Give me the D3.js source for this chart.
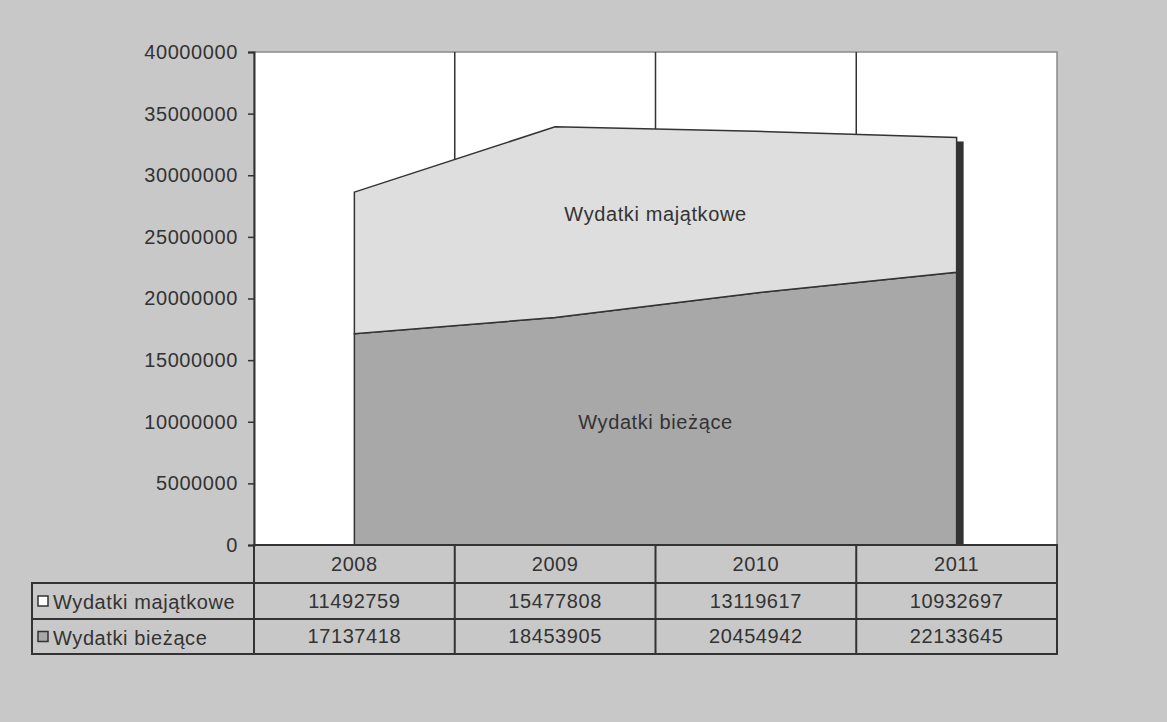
<!DOCTYPE html>
<html>
<head>
<meta charset="utf-8">
<script src="https://cdn.jsdelivr.net/npm/d3@7"></script>
<style>
  body { margin: 0; background: #c8c8c8; }
  text { font-family: "Liberation Sans", Arial, sans-serif; fill: #333; letter-spacing: 0.6px; }
</style>
</head>
<body>
<script>
// values
var years = ["2008", "2009", "2010", "2011"];
var majatkowe = [11492759, 15477808, 13119617, 10932697];
var biezace = [17137418, 18453905, 20454942, 22133645];
var seriesNames = ["Wydatki majątkowe", "Wydatki bieżące"];
var yTicks = [0, 5000000, 10000000, 15000000, 20000000, 25000000, 30000000, 35000000, 40000000];

var W = 1167, H = 722;
var plot = {left: 254, right: 1057, top: 52, bottom: 545};
var rowH = [38, 36, 35];
var tableLeft = 32;

var svg = d3.select("body").append("svg")
    .attr("width", W)
    .attr("height", H);

svg.append("rect").attr("width", W).attr("height", H).attr("fill", "#c8c8c8");

var x = d3.scaleBand().domain(years).range([plot.left, plot.right]);
var y = d3.scaleLinear().domain([0, 40000000]).range([plot.bottom, plot.top]);
var cx = function(d) { return x(d) + x.bandwidth() / 2; };

// plot area
svg.append("rect")
    .attr("x", plot.left).attr("y", plot.top)
    .attr("width", plot.right - plot.left).attr("height", plot.bottom - plot.top)
    .attr("fill", "#fff")
    .attr("stroke", "#8a8a8a")
    .attr("stroke-width", 1.5);

// category dividers
svg.append("g").selectAll("line")
  .data(years.slice(1))
  .enter().append("line")
    .attr("x1", function(d) { return x(d); })
    .attr("x2", function(d) { return x(d); })
    .attr("y1", plot.top).attr("y2", plot.bottom)
    .attr("stroke", "#333").attr("stroke-width", 1.5);

var stacked = years.map(function(d, i) {
  return {year: d, b: biezace[i], m: majatkowe[i]};
});
var stack = d3.stack().keys(["b", "m"])(stacked);

var area = d3.area()
    .x(function(d) { return cx(d.data.year); })
    .y0(function(d) { return y(d[0]); })
    .y1(function(d) { return y(d[1]); });

// 3d-ish shadow on the right edge
var last = stacked[stacked.length - 1];
svg.append("rect")
    .attr("x", cx(last.year))
    .attr("y", y(last.b + last.m) + 4)
    .attr("width", 7)
    .attr("height", plot.bottom - y(last.b + last.m) - 4)
    .attr("fill", "#333");

var fills = ["#a8a8a8", "#dedede"];
svg.append("g").selectAll("path")
  .data(stack)
  .enter().append("path")
    .attr("d", area)
    .attr("fill", function(d, i) { return fills[i]; })
    .attr("stroke", "#333")
    .attr("stroke-width", 1.5);

// series labels in the areas
var midX = (plot.left + plot.right) / 2;
svg.append("text").attr("x", midX).attr("y", 221)
    .attr("text-anchor", "middle").style("font-size", "20px")
    .text(seriesNames[0]);
svg.append("text").attr("x", midX).attr("y", 429)
    .attr("text-anchor", "middle").style("font-size", "20px")
    .text(seriesNames[1]);

// y axis
var yAxis = svg.append("g")
    .attr("transform", "translate(" + plot.left + ",0)")
    .call(d3.axisLeft(y).tickValues(yTicks).tickFormat(d3.format("d")).tickSize(6).tickPadding(10));
yAxis.select(".domain").attr("stroke", "#333").attr("stroke-width", 2);
yAxis.selectAll(".tick line").attr("stroke", "#333").attr("stroke-width", 1.5);
yAxis.selectAll(".tick text")
    .style("font-size", "20px")
    .style("font-family", "Liberation Sans, Arial, sans-serif")
    .attr("fill", "#333");

// data table
var t = svg.append("g").attr("stroke", "#333").attr("stroke-width", 2).attr("fill", "none");
var r0 = plot.bottom, r1 = r0 + rowH[0], r2 = r1 + rowH[1], r3 = r2 + rowH[2];
t.append("rect").attr("x", plot.left).attr("y", r0).attr("width", plot.right - plot.left).attr("height", rowH[0]);
t.append("rect").attr("x", tableLeft).attr("y", r1).attr("width", plot.right - tableLeft).attr("height", r3 - r1);
t.append("line").attr("x1", tableLeft).attr("x2", plot.right).attr("y1", r2).attr("y2", r2);
t.selectAll("line.col")
  .data(years)
  .enter().append("line").attr("class", "col")
    .attr("x1", function(d) { return x(d); })
    .attr("x2", function(d) { return x(d); })
    .attr("y1", r0).attr("y2", r3);

var cells = svg.append("g").style("font-size", "20px").attr("text-anchor", "middle");
cells.selectAll("text.yr").data(years).enter().append("text")
    .attr("x", cx).attr("y", r0 + 26).text(function(d) { return d; });
cells.selectAll("text.m").data(majatkowe).enter().append("text")
    .attr("x", function(d, i) { return cx(years[i]); }).attr("y", r1 + 25).text(function(d) { return d; });
cells.selectAll("text.b").data(biezace).enter().append("text")
    .attr("x", function(d, i) { return cx(years[i]); }).attr("y", r2 + 24).text(function(d) { return d; });

// legend keys in the row headers
var rows = [{name: seriesNames[0], fill: "#fff", y: r1}, {name: seriesNames[1], fill: "#a8a8a8", y: r2}];
rows.forEach(function(r) {
  var h = r === rows[0] ? rowH[1] : rowH[2];
  svg.append("rect")
      .attr("x", tableLeft + 6).attr("y", r.y + h / 2 - 5)
      .attr("width", 10).attr("height", 10)
      .attr("fill", r.fill).attr("stroke", "#333").attr("stroke-width", 1.5);
  svg.append("text")
      .attr("x", tableLeft + 21).attr("y", r.y + h / 2 + 8)
      .style("font-size", "20px")
      .text(r.name);
});
</script>
</body>
</html>
